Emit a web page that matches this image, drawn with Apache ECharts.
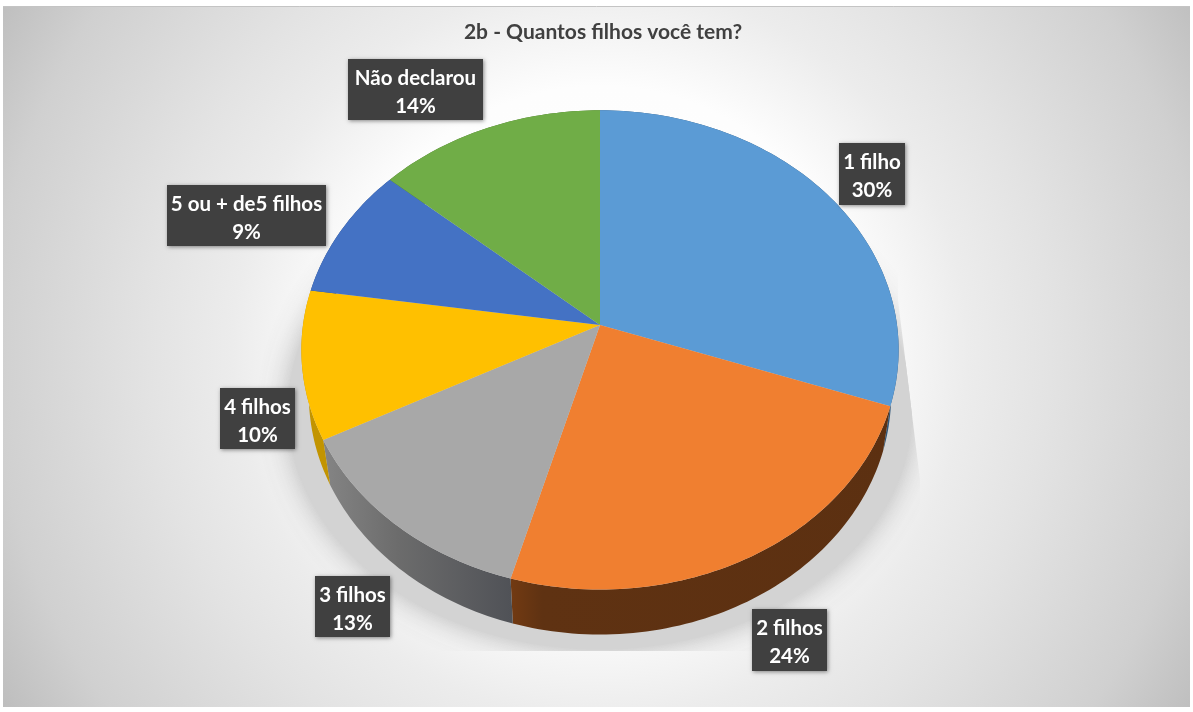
<!DOCTYPE html>
<html>
<head>
<meta charset="utf-8">
<style>html,body{margin:0;padding:0;background:#fff}#chart{width:1193px;height:712px}</style>
<script src="https://cdn.jsdelivr.net/npm/echarts@6/dist/echarts.min.js"></script>
</head>
<body>
<div id="chart"></div>
<script>
// Survey answers: number of children, share of respondents in percent
const categories = ['1 filho', '2 filhos', '3 filhos', '4 filhos', '5 ou + de5 filhos', 'Não declarou'];
const shares = [30, 24, 13, 10, 9, 14];
const chartTitle = '2b - Quantos filhos você tem?';

// Slice colours
const topColors = ['#5b9bd5', '#f07f30', '#a8a8a8', '#ffc000', '#4472c4', '#70ad47'];

// Tilted disc: perspective projection of the unit circle
const CX = 600, CY = 325, RX = 297, RY = 237, PERSP = 0.104;
const DEPTH = 45, BASE_SCALE = 0.975;
// The tilt also leans sideways, which turns the rim a little away from the 12 o'clock point
const LEAN = 0.023, LEAN_TAPER = 0.7;
const total = shares.reduce((a, b) => a + b, 0);
const starts = [];
shares.reduce((acc, v, i) => { starts[i] = acc; return acc + v; }, 0);

function project(angle) {
  const edge = Math.min(angle, Math.PI * 2 - angle);
  const theta = angle + LEAN * Math.min(1, edge / LEAN_TAPER);
  const u = Math.sin(theta), v = -Math.cos(theta), w = 1 - PERSP * v;
  return [CX + RX * u / w, CY + RY * v / w];
}
function lower(p, scale, drop) {
  return [CX + (p[0] - CX) * scale, p[1] + drop];
}
function arc(fromShare, toShare) {
  const pts = [];
  const n = Math.max(8, Math.ceil((toShare - fromShare) * 3));
  for (let k = 0; k <= n; k++) {
    pts.push(project((fromShare + (toShare - fromShare) * k / n) / total * Math.PI * 2));
  }
  return pts;
}
function hGrad(x0, x1, stops) {
  return { type: 'linear', x: x0, y: 0, x2: x1, y2: 0, global: true,
    colorStops: stops.map(s => ({ offset: s[0], color: s[1] })) };
}
const wallFills = [
  '#2f5679',
  hGrad(511, 900, [[0, '#723a12'], [0.08, '#5f3212'], [1, '#5c3011']]),
  hGrad(322, 511, [[0, '#858585'], [0.4, '#6c6c6c'], [1, '#505257']]),
  '#c29400', '#2b4a80', '#486f2d'
];

// Box rectangles for the data labels: left, top, right, bottom
const labelBoxes = [
  [839, 143, 905, 205], [752, 609, 827, 671], [315, 576, 390, 637],
  [220, 388, 295, 449], [167, 185, 326, 246], [348, 59, 483, 120]
];

function renderShadow(params) {
  if (params.dataIndex !== 0) return;
  const pts = arc(0, total).map(p => lower(p, 1.045, 60));
  return {
    type: 'group',
    clipPath: { type: 'polygon', shape: { points: [[0, 0], [898, 0], [898, 300], [920, 480], [920, 651], [0, 651]] } },
    children: [{
      type: 'polygon', shape: { points: pts },
      style: { fill: '#d3d3d3', shadowBlur: 30, shadowColor: 'rgba(170,170,170,0.9)' }
    }]
  };
}
function renderWall(params, api) {
  const i = params.dataIndex;
  const top = arc(starts[i], starts[i] + api.value(0));
  const bottom = top.map(p => lower(p, BASE_SCALE, DEPTH)).reverse();
  return { type: 'polygon', shape: { points: top.concat(bottom) }, style: { fill: wallFills[i] } };
}
function renderTop(params, api) {
  const i = params.dataIndex;
  const pts = [[CX, CY]].concat(arc(starts[i], starts[i] + api.value(0)));
  return { type: 'polygon', shape: { points: pts }, style: { fill: topColors[i] } };
}
function renderLabel(params, api) {
  const i = params.dataIndex, b = labelBoxes[i];
  const mid = (b[0] + b[2]) / 2, font = 'bold 20.5px Lato, "Open Sans", sans-serif';
  const txt = (t, y) => ({
    type: 'text', style: { text: t, x: mid, y: y, fill: '#fff', font: font,
      align: 'center', verticalAlign: 'middle' }
  });
  return {
    type: 'group',
    children: [
      { type: 'rect', shape: { x: b[0], y: b[1], width: b[2] - b[0], height: b[3] - b[1] },
        style: { fill: '#404040', shadowBlur: 4, shadowOffsetX: 1, shadowOffsetY: 1, shadowColor: 'rgba(0,0,0,0.45)' } },
      txt(categories[i], b[1] + 19.5),
      txt(api.value(0) + '%', b[1] + 47.5)
    ]
  };
}
function layer(render, z) {
  return { type: 'custom', coordinateSystem: 'none', renderItem: render, z: z, silent: true, data: shares, clip: false };
}

const chart = echarts.init(document.getElementById('chart'), null, { renderer: 'canvas' });
chart.setOption({
  animation: false,
  backgroundColor: '#ffffff',
  title: {
    text: chartTitle, left: 598, top: 17, textAlign: 'center',
    textStyle: { color: '#404040', fontFamily: 'Lato, "Open Sans", sans-serif', fontWeight: 'bold', fontSize: 21 }
  },
  graphic: [{
    type: 'rect', z: -10, silent: true,
    shape: { x: 3, y: 6, width: 1187, height: 701 },
    style: {
      fill: { type: 'radial', x: 600, y: 350, r: 694, global: true, colorStops: [
        { offset: 0, color: '#ffffff' }, { offset: 0.38, color: '#fdfdfd' },
        { offset: 0.53, color: '#ececec' }, { offset: 0.65, color: '#e3e3e3' },
        { offset: 0.875, color: '#d0d0d0' }, { offset: 1, color: '#bebebe' } ] }
    }
  }, {
    type: 'line', z: -9, silent: true,
    shape: { x1: 3, y1: 6.5, x2: 1190, y2: 6.5 },
    style: { stroke: '#c4c4c4', lineWidth: 1 }
  }],
  series: [layer(renderShadow, 1), layer(renderWall, 2), layer(renderTop, 3), layer(renderLabel, 4)]
});
</script>
</body>
</html>
